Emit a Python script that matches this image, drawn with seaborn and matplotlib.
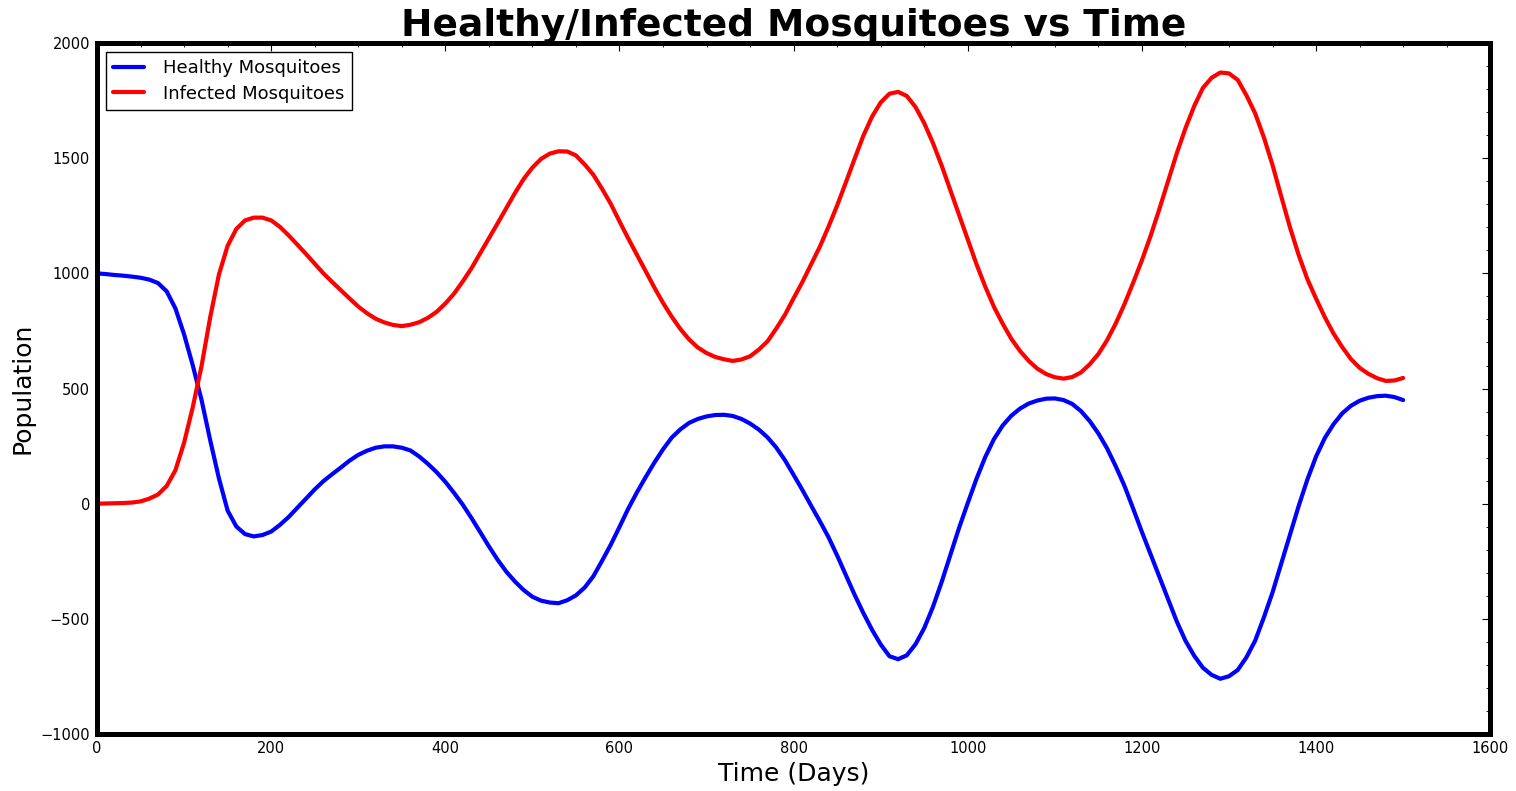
import numpy as np
import pandas as pd
import matplotlib
matplotlib.use("Agg")
import matplotlib.pyplot as plt
from matplotlib.ticker import MultipleLocator
import seaborn as sns

# values, every 10 days
days = list(range(0, 1501, 10))

healthy = [1000, 997, 993, 990, 986, 981, 973, 958, 922, 848,
           735, 600, 451, 275, 110, -30, -99, -132, -142, -136,
           -121, -92, -58, -18, 22, 62, 98, 128, 157, 187,
           212, 230, 243, 249, 249, 243, 231, 205, 173, 137,
           95, 47, -4, -62, -123, -185, -243, -295, -338, -375,
           -404, -421, -429, -432, -419, -398, -364, -315, -248, -178,
           -101, -22, 49, 115, 178, 236, 287, 323, 351, 368,
           379, 385, 386, 381, 368, 348, 322, 288, 244, 189,
           125, 60, -8, -75, -145, -225, -310, -395, -474, -547,
           -611, -662, -675, -658, -610, -540, -448, -340, -223, -105,
           3, 108, 202, 280, 339, 382, 413, 435, 448, 456,
           457, 450, 433, 402, 359, 305, 240, 162, 77, -22,
           -123, -220, -316, -415, -511, -595, -660, -712, -743, -760,
           -749, -722, -667, -595, -494, -385, -260, -135, -10, 105,
           205, 285, 345, 392, 425, 447, 460, 467, 469, 463,
           450]

infected = [0, 1, 2, 3, 5, 10, 22, 40, 77, 145,
            265, 420, 597, 810, 995, 1120, 1193, 1230, 1242, 1242,
            1230, 1202, 1165, 1125, 1084, 1042, 1000, 963, 927, 891,
            856, 827, 803, 787, 776, 771, 777, 788, 807, 833,
            869, 912, 965, 1022, 1087, 1152, 1217, 1283, 1349, 1410,
            1459, 1497, 1520, 1530, 1529, 1512, 1473, 1428, 1367, 1302,
            1226, 1152, 1081, 1010, 939, 872, 812, 758, 713, 678,
            654, 637, 627, 620, 626, 640, 669, 705, 760, 820,
            892, 962, 1038, 1115, 1202, 1295, 1395, 1497, 1597, 1680,
            1742, 1780, 1788, 1770, 1722, 1652, 1566, 1468, 1361, 1255,
            1146, 1040, 943, 855, 782, 716, 663, 620, 586, 563,
            549, 543, 550, 570, 605, 650, 710, 783, 867, 960,
            1057, 1163, 1279, 1400, 1521, 1630, 1726, 1805, 1849, 1872,
            1868, 1840, 1773, 1695, 1591, 1470, 1334, 1200, 1080, 975,
            890, 810, 739, 680, 628, 590, 564, 545, 533, 535,
            546]

labels = ["Healthy Mosquitoes", "Infected Mosquitoes"]
colors = ["blue", "red"]

df = pd.DataFrame({
    "Time": days * 2,
    "Population": healthy + infected,
    "Group": [labels[0]] * len(days) + [labels[1]] * len(days),
})

sns.set_theme(style="white")
plt.rcParams["font.family"] = ["DejaVu Sans"]
plt.rcParams["text.color"] = "black"
plt.rcParams["axes.labelcolor"] = "black"
plt.rcParams["xtick.color"] = "black"
plt.rcParams["ytick.color"] = "black"

fig = plt.figure(figsize=(15.16, 7.91), dpi=100)
ax = fig.add_axes([0.064, 0.072, 0.919, 0.8736])

sns.lineplot(data=df, x="Time", y="Population", hue="Group",
             palette=dict(zip(labels, colors)), linewidth=3, ax=ax,
             legend=False)

ax.set_xlim(0, 1600)
ax.set_ylim(-1000, 2000)
ax.xaxis.set_major_locator(MultipleLocator(200))
ax.xaxis.set_minor_locator(MultipleLocator(50))
ax.yaxis.set_major_locator(MultipleLocator(500))
ax.yaxis.set_minor_locator(MultipleLocator(100))

ax.tick_params(which="both", direction="in", top=True, right=True,
               colors="black", labelsize=10.5)
ax.tick_params(which="major", length=6, width=0.8, pad=5)
ax.tick_params(which="minor", length=3, width=0.6)

for sp in ax.spines.values():
    sp.set_linewidth(3.6)
    sp.set_color("black")

ax.set_title("Healthy/Infected Mosquitoes vs Time", fontsize=27,
             fontweight="bold", pad=5, color="black")
ax.set_xlabel("Time (Days)", fontsize=18)
ax.set_ylabel("Population", fontsize=18)

handles = [plt.Line2D([], [], color=c, linewidth=3) for c in colors]
leg = ax.legend(handles, labels, loc="upper left", fontsize=13,
                frameon=True, fancybox=False, framealpha=1,
                edgecolor="black", handlelength=1.7, handletextpad=1.05,
                labelspacing=0.4, borderpad=0.4)
leg.get_frame().set_linewidth(1)
for t in leg.get_texts():
    t.set_color("black")

fig.savefig("out.png", dpi=100)
